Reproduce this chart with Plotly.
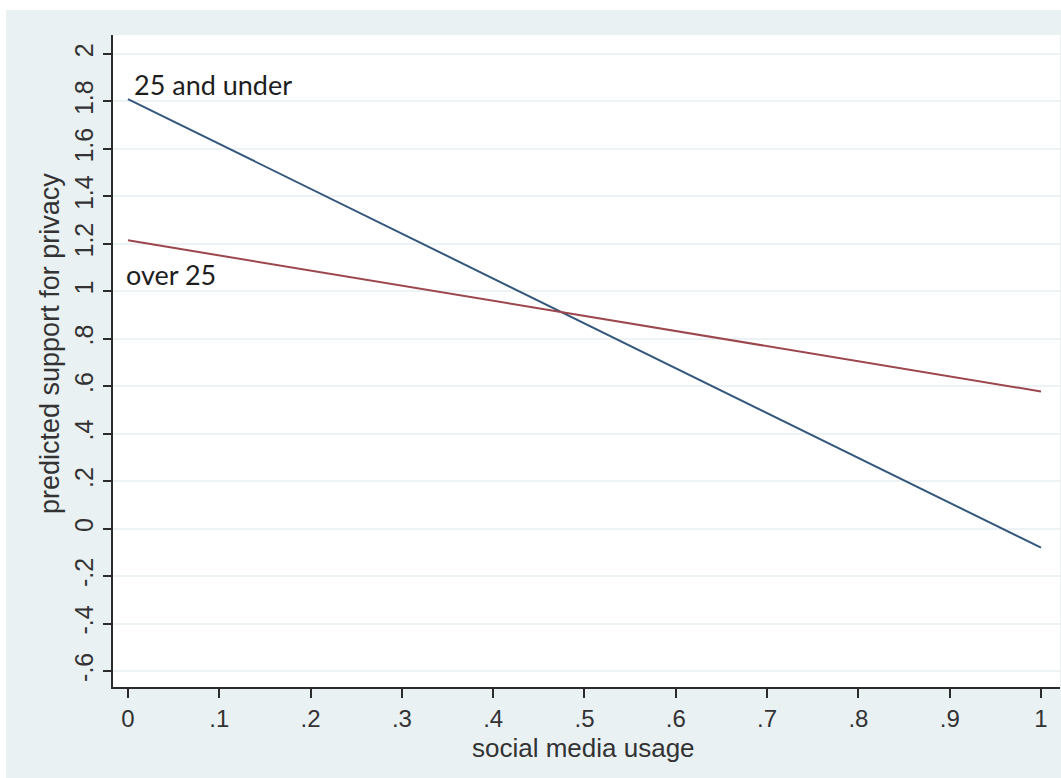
import plotly.graph_objects as go

# Data
usage = [0, 1]
young = [1.81, -0.08]      # 25 and under
older = [1.215, 0.578]     # over 25

xtick_vals = [0, 0.1, 0.2, 0.3, 0.4, 0.5, 0.6, 0.7, 0.8, 0.9, 1]
xtick_text = ["0", ".1", ".2", ".3", ".4", ".5", ".6", ".7", ".8", ".9", "1"]
ytick_vals = [-0.6, -0.4, -0.2, 0, 0.2, 0.4, 0.6, 0.8, 1, 1.2, 1.4, 1.6, 1.8, 2]
ytick_text = ["-.6", "-.4", "-.2", "0", ".2", ".4", ".6", ".8", "1", "1.2", "1.4", "1.6", "1.8", "2"]

labels = ["25 and under", "over 25"]
label_x = [0.004, -0.004]
label_y = [1.871, 1.07]

BLUE = "#34577c"
RED = "#9c464d"
OUTER = "#e9f1f3"
AXIS = "#2b2b2b"
TICKFONT = "Liberation Sans, Arial"

fig = go.Figure()
fig.add_trace(go.Scatter(x=usage, y=young, mode="lines",
                         line=dict(color=BLUE, width=2), showlegend=False))
fig.add_trace(go.Scatter(x=usage, y=older, mode="lines",
                         line=dict(color=RED, width=2), showlegend=False))

for t, xx, yy in zip(labels, label_x, label_y):
    fig.add_annotation(x=xx, y=yy, text=t, showarrow=False, xanchor="left",
                       yanchor="middle", xref="x", yref="y",
                       font=dict(family="Lato", size=27, color="#1e1e1e"))

W, H = 1061, 778
L, R, T, B = 113, 1, 35, 91
pw, ph = W - L - R, H - T - B

def px_x(p):
    return (p - L) / pw

def px_y(p):
    return (H - B - p) / ph

# white strips at top and left (outside the tinted frame)
fig.add_shape(type="rect", xref="paper", yref="paper", layer="below",
              x0=px_x(0), x1=px_x(W), y0=px_y(10), y1=px_y(0),
              fillcolor="white", line=dict(width=0))
fig.add_shape(type="rect", xref="paper", yref="paper", layer="below",
              x0=px_x(0), x1=px_x(6), y0=px_y(H), y1=px_y(0),
              fillcolor="white", line=dict(width=0))

# axis titles
fig.add_annotation(x=px_x(583), y=px_y(748), xref="paper", yref="paper",
                   text="social media usage", showarrow=False,
                   xanchor="center", yanchor="middle",
                   font=dict(family="Liberation Sans", size=26, color="#333333"))
fig.add_annotation(x=px_x(50), y=px_y(344), xref="paper", yref="paper",
                   text="predicted support for privacy", showarrow=False,
                   textangle=-90, xanchor="center", yanchor="middle",
                   font=dict(family="Liberation Sans", size=27, color="#333333"))

fig.update_layout(
    width=W, height=H,
    margin=dict(l=L, r=R, t=T, b=B, pad=0),
    paper_bgcolor=OUTER, plot_bgcolor="white",
    showlegend=False,
    xaxis=dict(range=[-0.0164, 1.0208], tickvals=xtick_vals, ticktext=xtick_text,
               showgrid=False, zeroline=False, showline=True, linecolor=AXIS,
               linewidth=2, ticks="outside", ticklen=9, tickwidth=2,
               tickcolor=AXIS,
               tickfont=dict(family=TICKFONT, size=24, color="#333333")),
    yaxis=dict(range=[-0.667, 2.08], tickvals=ytick_vals, ticktext=ytick_text,
               showgrid=True, gridcolor="#edf2f5", gridwidth=1.5,
               zeroline=False, showline=True, linecolor=AXIS, linewidth=2,
               ticks="outside", ticklen=8, tickwidth=2, tickcolor=AXIS,
               tickangle=-90,
               tickfont=dict(family=TICKFONT, size=25, color="#333333")),
)

fig.write_html("out.html", config={"displayModeBar": False},
               post_script="document.body.style.margin='0';")
